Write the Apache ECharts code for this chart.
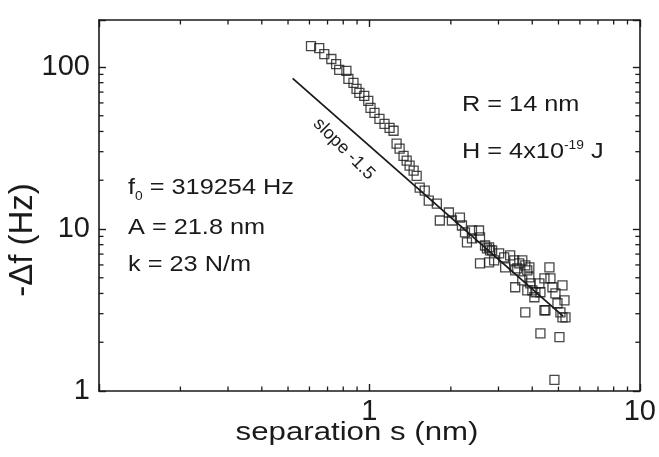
<!DOCTYPE html>
<html><head><meta charset="utf-8">
<script src="https://cdn.jsdelivr.net/npm/echarts@6/dist/echarts.min.js"></script>
<style>html,body{margin:0;padding:0;background:#fff}#c{width:659px;height:457px}</style>
</head><body><div id="c"></div>
<script>
// ---- data ----
const xTickLabels = ['1', '10'];
const yTickLabels = ['1', '10', '100'];
const xRange = [0.1, 10];
const yRange = [1, 195];
const xMinorTicks = [0.2, 0.3, 0.4, 0.5, 0.6, 0.7, 0.8, 0.9, 2, 3, 4, 5, 6, 7, 8, 9];
const yMinorTicks = [2, 3, 4, 5, 6, 7, 8, 9, 20, 30, 40, 50, 60, 70, 80, 90];
const measured = [
  [0.608,134.6],[0.652,130.9],[0.681,120.2],[0.723,112],[0.753,104.3],[0.773,95.9],[0.822,94.5],
  [0.836,84.4],[0.873,79.7],[0.896,73.2],[0.918,69.2],[0.957,66.3],[0.990,61.8],[1.009,55.9],
  [1.044,52.1],[1.089,47.9],[1.137,44.6],[1.187,42.1],[1.228,40.4],[1.260,33.6],[1.293,31.3],
  [1.337,28.3],[1.373,26.4],[1.408,24.6],[1.457,22.9],[1.495,21.3],
  [1.534,18.0],[1.601,17.26],[1.657,14.98],[1.775,14.35],[1.821,11.28],[1.967,12.64],[2.018,11.28],
  [2.161,11.77],[2.198,10.51],[2.256,9.52],[2.294,8.26],[2.394,9.79],[2.394,8.74],[2.542,9.79],
  [2.564,8.87],[2.564,6.13],[2.676,7.91],[2.72,7.6],[2.770,7.69],[2.793,7.37],[2.770,6.22],
  [2.842,7.37],[2.891,6.40],[3.017,7.07],[3.149,6.68],[3.176,5.80],[3.314,6.87],[3.430,6.40],
  [3.459,5.55],[3.581,6.13],[3.674,6.40],[3.770,5.96],[3.835,5.55],[3.902,5.03],[3.936,4.62],
  [4.004,4.18],[3.770,3.06],[4.073,3.79],[4.251,4.62],[4.288,4.07],[4.475,3.15],[4.630,5.80],
  [4.670,4.96],[4.751,4.37],[4.873,4.01],[4.957,3.48],[5.085,3.06],[5.173,4.49],[5.263,3.63],
  [5.173,2.85],[4.288,2.27],[5.042,2.15],[4.831,1.17],[4.437,3.15],[3.674,4.82],[3.835,4.18],
  [4.108,4.07],[4.437,4.96],[3.459,4.37],[5.308,2.85],[3.902,5.80],[3.520,5.71]
];
const slopeFit = [[0.52, 85], [5.2, 2.9]];
const slopeText = 'slope -1.5';
const leftNotes = ['f{s|0} = 319254 Hz', 'A = 21.8 nm', 'k = 23 N/m'];
const rightNotes = ['R = 14 nm', 'H = 4x10{p|-19} J'];
const xTitle = 'separation s (nm)';
const yTitle = '-\u0394f (Hz)';

// ---- chart ----
const FONT = 'Liberation Sans, Arial, Helvetica, sans-serif';
const INK = '#1a1a1a';
const chart = echarts.init(document.getElementById('c'), null, {renderer: 'canvas'});

function fmt(labels) {
  return function (v) {
    const s = String(Math.round(v * 1000) / 1000);
    return labels.includes(s) ? s : '';
  };
}
const axisLine = {show: true, lineStyle: {color: INK, width: 1.6}};
const tick = {show: true, inside: true, length: 7, lineStyle: {color: INK, width: 1.4}};

function xAx(pos, showLabel) {
  return {type: 'log', logBase: 10, min: xRange[0], max: xRange[1], position: pos,
    axisLine, axisTick: tick, splitLine: {show: false},
    axisLabel: {show: showLabel, formatter: fmt(xTickLabels), fontSize: 29, color: INK, fontFamily: FONT, margin: 6}};
}
function yAx(pos, showLabel) {
  return {type: 'log', logBase: 10, min: yRange[0], max: yRange[1], position: pos,
    axisLine, axisTick: tick, splitLine: {show: false},
    axisLabel: {show: showLabel, formatter: fmt(yTickLabels), fontSize: 29, color: INK, fontFamily: FONT, margin: 9}};
}

const noteStyle = {fontSize: 22, fontFamily: FONT, fill: INK};
const graphics = [];
leftNotes.forEach((t, i) => {
  graphics.push({type: 'text', x: 128, y: [188, 228, 265][i], scaleX: 1.15, style: Object.assign({}, noteStyle, {
    text: t, verticalAlign: 'middle',
    rich: {s: {fontSize: 12, fontFamily: FONT, fill: INK, verticalAlign: 'bottom', lineHeight: 30, padding: [14, 0, 0, 0]}}
  })});
});
rightNotes.forEach((t, i) => {
  graphics.push({type: 'text', x: 462, y: [105, 152][i], scaleX: 1.15, style: Object.assign({}, noteStyle, {
    text: t, verticalAlign: 'middle',
    rich: {p: {fontSize: 12, fontFamily: FONT, fill: INK, verticalAlign: 'top', padding: [0, 0, 12, 0]}}
  })});
});
graphics.push({type: 'text', x: 344, y: 149, rotation: -45 * Math.PI / 180,
  style: {text: slopeText, fontSize: 18, fontFamily: FONT, fill: INK, align: 'center', verticalAlign: 'middle'}});
graphics.push({type: 'text', x: 357, y: 433, scaleX: 1.2,
  style: {text: xTitle, fontSize: 26, fontFamily: FONT, fill: INK, align: 'center', verticalAlign: 'middle'}});
graphics.push({type: 'text', x: 23, y: 240, rotation: Math.PI / 2,
  style: {text: yTitle, fontSize: 33, fontFamily: FONT, fill: INK, align: 'center', verticalAlign: 'middle'}});

const L = 4.5;
const tickStyle = {stroke: INK, lineWidth: 1.3};
function xMinorRender(params, api) {
  const v = api.value(0);
  const b = api.coord([v, yRange[0]]);
  const t = api.coord([v, yRange[1]]);
  return {type: 'group', children: [
    {type: 'line', shape: {x1: b[0], y1: b[1], x2: b[0], y2: b[1] - L}, style: tickStyle},
    {type: 'line', shape: {x1: t[0], y1: t[1], x2: t[0], y2: t[1] + L}, style: tickStyle}
  ]};
}
function yMinorRender(params, api) {
  const v = api.value(1);
  const l = api.coord([xRange[0], v]);
  const r = api.coord([xRange[1], v]);
  return {type: 'group', children: [
    {type: 'line', shape: {x1: l[0], y1: l[1], x2: l[0] + L, y2: l[1]}, style: tickStyle},
    {type: 'line', shape: {x1: r[0], y1: r[1], x2: r[0] - L, y2: r[1]}, style: tickStyle}
  ]};
}

chart.setOption({
  animation: false,
  backgroundColor: '#fff',
  grid: {left: 99, right: 18, top: 20, bottom: 66},
  xAxis: [xAx('bottom', true), xAx('top', false)],
  yAxis: [yAx('left', true), yAx('right', false)],
  series: [
    {type: 'custom', data: xMinorTicks.map(v => [v, yRange[0]]), renderItem: xMinorRender, clip: false, silent: true},
    {type: 'custom', data: yMinorTicks.map(v => [xRange[0], v]), renderItem: yMinorRender, clip: false, silent: true},
    {type: 'scatter', data: measured, symbol: 'rect', symbolSize: 9,
      itemStyle: {color: 'rgba(255,255,255,0)', borderColor: INK, borderWidth: 1.3}},
    {type: 'line', data: slopeFit, symbol: 'none', lineStyle: {color: INK, width: 1.8}}
  ],
  graphic: graphics
});
</script></body></html>
